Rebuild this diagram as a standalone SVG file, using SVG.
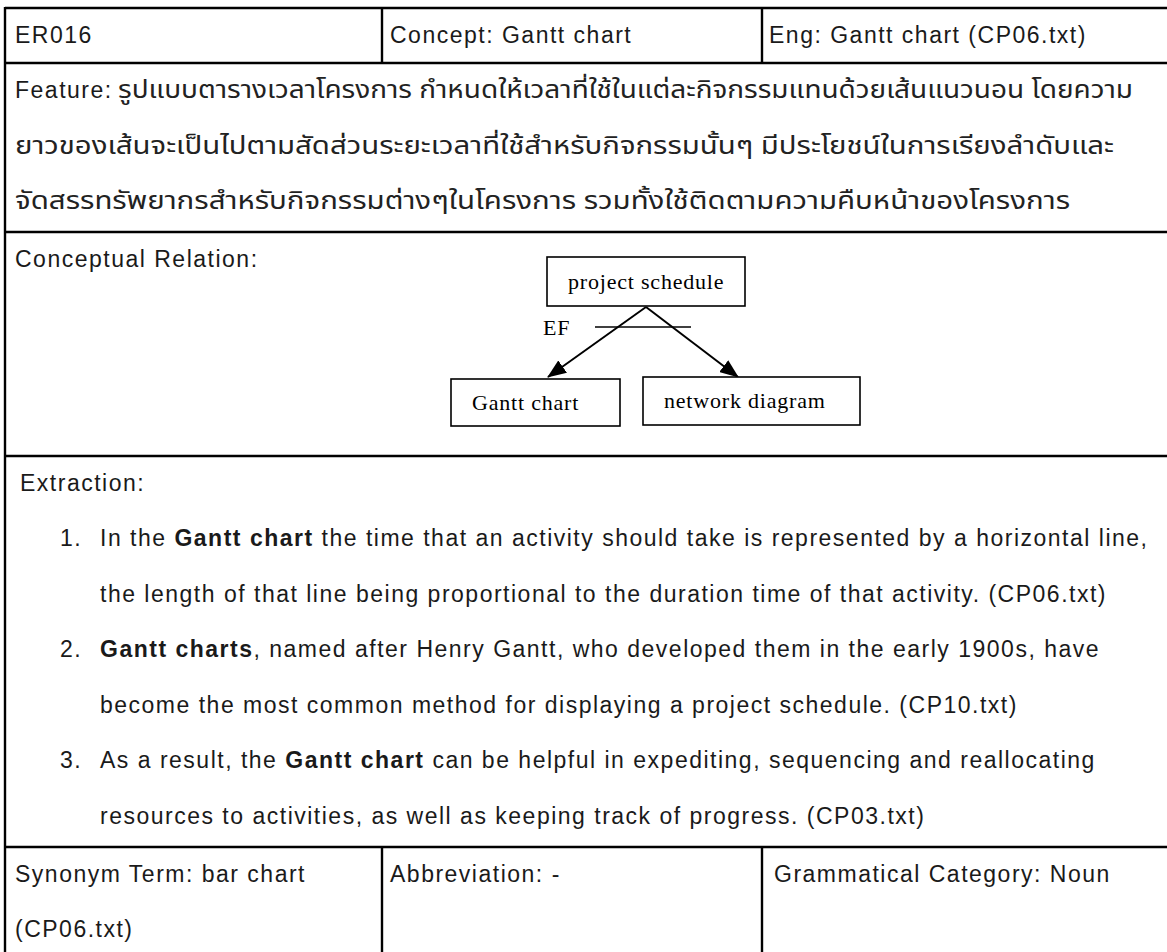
<svg xmlns="http://www.w3.org/2000/svg" width="1167" height="952" viewBox="0 0 1167 952">
  <style>
    .cell { font-family: "Liberation Sans", Arial, sans-serif; font-size: 23px; letter-spacing: 1.5px; fill: #1a1a1a; }
    .thai { font-family: "Noto Sans Thai", "Loma", "Garuda", "Liberation Sans", sans-serif; font-size: 24px; fill: #222; }
    .b { font-weight: bold; }
    .grid { stroke: #000; stroke-width: 2.4; fill: none; }
    .box { fill: #fff; stroke: #000; stroke-width: 1.6; }
    .lbl { font-family: "Liberation Serif", "Times New Roman", serif; font-size: 22px; letter-spacing: 0.8px; fill: #000; }
    .edge { stroke: #000; stroke-width: 2; fill: none; }
  </style>
  <defs>
    <marker id="arrow" markerUnits="userSpaceOnUse" markerWidth="19" markerHeight="15" refX="18" refY="7.5" orient="auto">
      <path d="M0,0 L19,7.5 L0,15 z" fill="#000"/>
    </marker>
  </defs>

  <rect width="1167" height="952" fill="#fff"/>

  <!-- table rules -->
  <g id="table" class="grid">
    <line x1="5" y1="8" x2="1167" y2="8"/>
    <line x1="5" y1="63" x2="1167" y2="63"/>
    <line x1="5" y1="232" x2="1167" y2="232"/>
    <line x1="5" y1="456" x2="1167" y2="456"/>
    <line x1="5" y1="847" x2="1167" y2="847"/>
    <line x1="5" y1="7" x2="5" y2="952"/>
    <line x1="382" y1="8" x2="382" y2="63"/>
    <line x1="762" y1="8" x2="762" y2="63"/>
    <line x1="382" y1="847" x2="382" y2="952"/>
    <line x1="762" y1="847" x2="762" y2="952"/>
  </g>

  <!-- header row -->
  <g id="header">
    <text class="cell" x="15" y="43">ER016</text>
    <text class="cell" x="390" y="43">Concept: Gantt chart</text>
    <text class="cell" x="769" y="43">Eng: Gantt chart (CP06.txt)</text>
  </g>

  <!-- feature description -->
  <g id="feature">
    <text class="cell" x="15" y="98">Feature:</text>
    <text class="thai" x="118" y="98" textLength="1015" lengthAdjust="spacingAndGlyphs">รูปแบบตารางเวลาโครงการ กำหนดให้เวลาที่ใช้ในแต่ละกิจกรรมแทนด้วยเส้นแนวนอน โดยความ</text>
    <text class="thai" x="15" y="153.5" textLength="1099" lengthAdjust="spacingAndGlyphs">ยาวของเส้นจะเป็นไปตามสัดส่วนระยะเวลาที่ใช้สำหรับกิจกรรมนั้นๆ มีประโยชน์ในการเรียงลำดับและ</text>
    <text class="thai" x="15" y="209" textLength="1055" lengthAdjust="spacingAndGlyphs">จัดสรรทรัพยากรสำหรับกิจกรรมต่างๆในโครงการ รวมทั้งใช้ติดตามความคืบหน้าของโครงการ</text>
  </g>

  <!-- conceptual relation -->
  <text class="cell" x="15" y="267">Conceptual Relation:</text>

  <g id="connectors">
    <line class="edge" x1="646" y1="307" x2="548" y2="377" marker-end="url(#arrow)"/>
    <line class="edge" x1="646" y1="307" x2="738" y2="377" marker-end="url(#arrow)"/>
    <line x1="595" y1="327" x2="691" y2="327" stroke="#000" stroke-width="1.6"/>
    <text class="lbl" x="543" y="335">EF</text>
  </g>

  <g id="node-project-schedule">
    <rect class="box" x="547" y="257" width="198" height="49"/>
    <text class="lbl" x="568" y="289">project schedule</text>
  </g>
  <g id="node-gantt-chart">
    <rect class="box" x="451" y="379" width="169" height="47"/>
    <text class="lbl" x="472" y="410">Gantt chart</text>
  </g>
  <g id="node-network-diagram">
    <rect class="box" x="643" y="377" width="217" height="48"/>
    <text class="lbl" x="664" y="408">network diagram</text>
  </g>

  <!-- extraction -->
  <g id="extraction">
    <text class="cell" x="20" y="491">Extraction:</text>
    <text class="cell" x="60" y="546">1.</text>
    <text class="cell" x="100" y="546">In the <tspan class="b">Gantt chart</tspan> the time that an activity should take is represented by a horizontal line,</text>
    <text class="cell" x="100" y="601.5">the length of that line being proportional to the duration time of that activity. (CP06.txt)</text>
    <text class="cell" x="60" y="657">2.</text>
    <text class="cell" x="100" y="657"><tspan class="b">Gantt charts</tspan>, named after Henry Gantt, who developed them in the early 1900s, have</text>
    <text class="cell" x="100" y="712.5">become the most common method for displaying a project schedule. (CP10.txt)</text>
    <text class="cell" x="60" y="768">3.</text>
    <text class="cell" x="100" y="768">As a result, the <tspan class="b">Gantt chart</tspan> can be helpful in expediting, sequencing and reallocating</text>
    <text class="cell" x="100" y="823.5">resources to activities, as well as keeping track of progress. (CP03.txt)</text>
  </g>

  <!-- footer row -->
  <g id="footer">
    <text class="cell" x="15" y="882">Synonym Term: bar chart</text>
    <text class="cell" x="15" y="937">(CP06.txt)</text>
    <text class="cell" x="390" y="882">Abbreviation: -</text>
    <text class="cell" x="774" y="882">Grammatical Category: Noun</text>
  </g>
</svg>
